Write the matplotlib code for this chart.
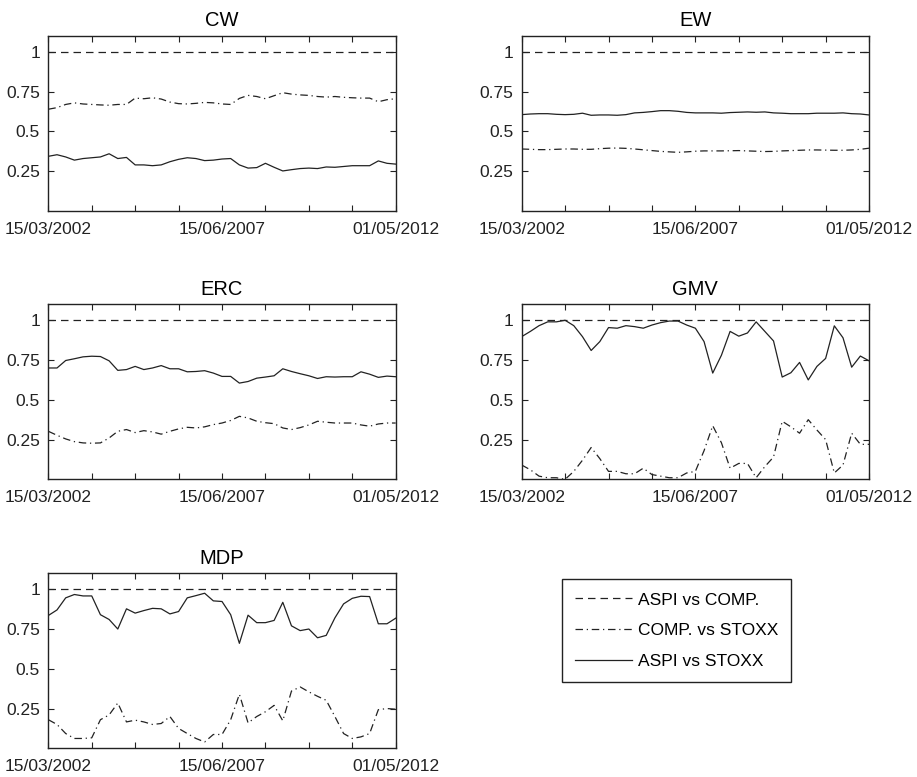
import numpy as np
import matplotlib
matplotlib.use('Agg')
import matplotlib.pyplot as plt
from matplotlib.lines import Line2D

plt.rcParams['font.family'] = ['Liberation Sans', 'DejaVu Sans']

# fechas (trimestral), solo se etiquetan tres
n_puntos = 41
etiquetas_x = ['15/03/2002', '15/06/2007', '01/05/2012']
ticks_y = [0.25, 0.5, 0.75, 1]
etiquetas_y = ['0.25', '0.5', '0.75', '1']

# ASPI vs COMP. es 1 en todos los casos
aspi_comp = 1.0

cw_comp_stoxx = [0.64, 0.65, 0.67, 0.68, 0.673, 0.67, 0.667, 0.665, 0.67, 0.67,
                 0.71, 0.706, 0.712, 0.704, 0.685, 0.675, 0.673, 0.677, 0.683, 0.68,
                 0.673, 0.67, 0.708, 0.727, 0.72, 0.706, 0.725, 0.744, 0.735, 0.73,
                 0.727, 0.72, 0.716, 0.72, 0.715, 0.712, 0.71, 0.71, 0.687, 0.70, 0.706]
cw_aspi_stoxx = [0.344, 0.354, 0.34, 0.32, 0.33, 0.335, 0.34, 0.36, 0.33, 0.337,
                 0.29, 0.29, 0.285, 0.29, 0.31, 0.325, 0.335, 0.33, 0.317, 0.32,
                 0.327, 0.33, 0.29, 0.27, 0.273, 0.30, 0.275, 0.252, 0.26, 0.267,
                 0.27, 0.267, 0.277, 0.275, 0.28, 0.285, 0.285, 0.285, 0.315, 0.30, 0.295]

ew_comp_stoxx = [0.39, 0.388, 0.386, 0.386, 0.388, 0.39, 0.39, 0.388, 0.388, 0.392,
                 0.395, 0.396, 0.394, 0.39, 0.385, 0.38, 0.375, 0.372, 0.369, 0.372,
                 0.376, 0.378, 0.378, 0.378, 0.379, 0.38, 0.378, 0.376, 0.374, 0.375,
                 0.378, 0.38, 0.382, 0.384, 0.384, 0.383, 0.382, 0.382, 0.384, 0.388, 0.395]
ew_aspi_stoxx = [0.606, 0.61, 0.612, 0.612, 0.608, 0.606, 0.608, 0.615, 0.602, 0.604,
                 0.604, 0.602, 0.606, 0.617, 0.62, 0.625, 0.631, 0.631, 0.627, 0.62,
                 0.617, 0.617, 0.617, 0.615, 0.619, 0.621, 0.623, 0.621, 0.623, 0.617,
                 0.615, 0.612, 0.612, 0.612, 0.615, 0.615, 0.615, 0.617, 0.612, 0.61, 0.604]

erc_comp_stoxx = [0.302, 0.277, 0.254, 0.237, 0.229, 0.227, 0.229, 0.26, 0.302, 0.313,
                  0.294, 0.306, 0.298, 0.284, 0.302, 0.317, 0.327, 0.323, 0.33, 0.344,
                  0.354, 0.37, 0.396, 0.386, 0.365, 0.356, 0.35, 0.323, 0.313, 0.325,
                  0.342, 0.365, 0.359, 0.354, 0.354, 0.354, 0.342, 0.334, 0.348, 0.354, 0.354]
erc_aspi_stoxx = [0.70, 0.70, 0.747, 0.758, 0.77, 0.774, 0.772, 0.745, 0.685, 0.69,
                  0.71, 0.69, 0.70, 0.715, 0.695, 0.695, 0.676, 0.678, 0.683, 0.668,
                  0.647, 0.647, 0.605, 0.615, 0.636, 0.643, 0.651, 0.695, 0.678, 0.664,
                  0.651, 0.634, 0.645, 0.643, 0.645, 0.645, 0.676, 0.661, 0.641, 0.649, 0.645]

gmv_comp_stoxx = [0.09, 0.06, 0.02, 0.01, 0.01, 0.0, 0.05, 0.12, 0.2, 0.13,
                  0.05, 0.05, 0.035, 0.035, 0.07, 0.03, 0.02, 0.01, 0.01, 0.04,
                  0.05, 0.18, 0.337, 0.23, 0.07, 0.10, 0.10, 0.01, 0.08, 0.14,
                  0.365, 0.33, 0.29, 0.375, 0.31, 0.25, 0.04, 0.09, 0.29, 0.22, 0.22]
gmv_aspi_stoxx = [0.897, 0.93, 0.966, 0.99, 0.99, 1.0, 0.966, 0.897, 0.81, 0.866,
                  0.954, 0.95, 0.966, 0.96, 0.95, 0.97, 0.985, 0.995, 0.995, 0.97,
                  0.95, 0.866, 0.668, 0.78, 0.93, 0.90, 0.92, 0.99, 0.93, 0.87,
                  0.643, 0.67, 0.735, 0.625, 0.71, 0.76, 0.965, 0.89, 0.705, 0.775, 0.745]

mdp_comp_stoxx = [0.18, 0.15, 0.093, 0.062, 0.062, 0.066, 0.18, 0.21, 0.285, 0.166,
                  0.177, 0.166, 0.15, 0.156, 0.2, 0.125, 0.093, 0.062, 0.04, 0.087,
                  0.087, 0.18, 0.34, 0.16, 0.2, 0.23, 0.27, 0.173, 0.36, 0.386,
                  0.355, 0.327, 0.302, 0.2, 0.093, 0.062, 0.072, 0.093, 0.243, 0.25, 0.246]
mdp_aspi_stoxx = [0.835, 0.87, 0.946, 0.967, 0.958, 0.958, 0.84, 0.81, 0.75, 0.877,
                  0.85, 0.866, 0.88, 0.877, 0.845, 0.86, 0.946, 0.96, 0.975, 0.927,
                  0.923, 0.84, 0.66, 0.837, 0.79, 0.79, 0.804, 0.918, 0.77, 0.74,
                  0.75, 0.695, 0.71, 0.82, 0.908, 0.943, 0.956, 0.954, 0.783, 0.783, 0.818]

paneles = [('CW', cw_comp_stoxx, cw_aspi_stoxx),
           ('EW', ew_comp_stoxx, ew_aspi_stoxx),
           ('ERC', erc_comp_stoxx, erc_aspi_stoxx),
           ('GMV', gmv_comp_stoxx, gmv_aspi_stoxx),
           ('MDP', mdp_comp_stoxx, mdp_aspi_stoxx)]

estilo_dash = (0, (6, 4))
estilo_dashdot = (0, (6, 3, 1, 3))
color = '#222222'
lw = 0.9

fig = plt.figure(figsize=(9.17, 7.77), dpi=100)

# posiciones de los ejes (izq, abajo) en fraccion de figura
izquierdas = [0.0527, 0.5689]
abajos = [0.7284, 0.3831, 0.0369]
ancho, alto = 0.3788, 0.2252

x = np.arange(n_puntos)
for k, (titulo, comp_stoxx, aspi_stoxx) in enumerate(paneles):
    ax = fig.add_axes([izquierdas[k % 2], abajos[k // 2], ancho, alto])
    ax.plot(x, np.full(n_puntos, aspi_comp), color=color, lw=lw, linestyle=estilo_dash)
    ax.plot(x, comp_stoxx, color=color, lw=lw, linestyle=estilo_dashdot)
    ax.plot(x, aspi_stoxx, color=color, lw=lw, linestyle='-')
    ax.set_xlim(0, n_puntos - 1)
    ax.set_ylim(0, 1.1)
    ax.set_xticks(np.arange(0, n_puntos, 5))
    ax.set_xticklabels([etiquetas_x[0], '', '', '', etiquetas_x[1], '', '', '', etiquetas_x[2]])
    ax.set_yticks(ticks_y)
    ax.set_yticklabels(etiquetas_y)
    ax.tick_params(direction='in', top=True, right=True, length=4, width=0.8,
                   labelsize=12.5, colors='#222222')
    ax.tick_params(axis='x', pad=8)
    ax.tick_params(axis='y', pad=6)
    for s in ax.spines.values():
        s.set_linewidth(1.0)
        s.set_color('#222222')
    ax.set_title(titulo, fontsize=14.5, pad=7)

# leyenda en el hueco del sexto panel
handles = [Line2D([], [], color=color, lw=lw, linestyle=estilo_dash),
           Line2D([], [], color=color, lw=lw, linestyle=estilo_dashdot),
           Line2D([], [], color=color, lw=lw, linestyle='-')]
nombres = ['ASPI vs COMP.', 'COMP. vs STOXX', 'ASPI vs STOXX']
leg = fig.legend(handles, nombres, loc='upper left', bbox_to_anchor=(0.6125, 0.2544),
                 bbox_transform=fig.transFigure, borderaxespad=0, fontsize=12.5,
                 handlelength=3.3, handletextpad=0.35, labelspacing=0.9,
                 borderpad=0.75, fancybox=False, framealpha=1)
leg.get_frame().set_edgecolor('#222222')
leg.get_frame().set_linewidth(1.0)

fig.savefig('out.png', dpi=100)
